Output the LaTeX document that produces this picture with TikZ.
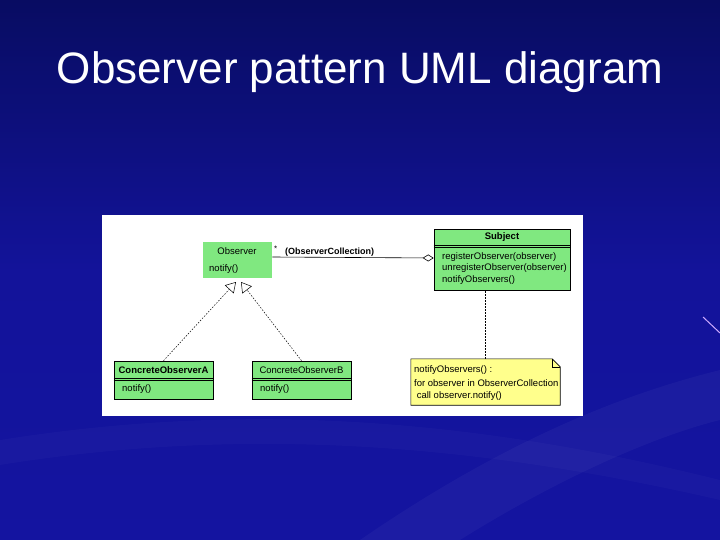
\documentclass[tikz,border=0pt]{standalone}
\usepackage{fontspec}
\setmainfont{Liberation Sans}
\usetikzlibrary{arrows.meta,positioning}
\definecolor{bgtop}{RGB}{8,12,98}
\definecolor{bgbot}{RGB}{20,20,160}
\definecolor{umlgreen}{RGB}{128,232,128}
\definecolor{noteyellow}{RGB}{255,255,140}
\definecolor{streakpink}{RGB}{205,170,255}
\tikzset{
  classbox/.style={draw=black, fill=umlgreen, inner sep=0pt, line width=0.6pt},
  umltext/.style={font=\fontsize{9.5}{11}\selectfont, inner sep=0pt, anchor=west},
  umltitle/.style={font=\fontsize{9.5}{11}\selectfont, inner sep=0pt},
  realize/.style={dash pattern=on 1.5pt off 1.5pt, line width=0.5pt,
    -{Triangle[open,length=10pt,width=12pt]}},
  notelink/.style={dash pattern=on 1.5pt off 1.5pt, line width=0.6pt}
}
\begin{document}
\begin{tikzpicture}[x=1pt,y=-1pt]
  \useasboundingbox (0,0) rectangle (720,540);
  % slide background
  \shade[top color=bgtop, bottom color=bgbot, middle color=bgbot!90!bgtop] (0,0) rectangle (720,540);
  \fill[white,opacity=0.035] (360,540) .. controls (520,430) and (640,390) .. (720,370)
        -- (720,420) .. controls (640,440) and (540,490) .. (460,540) -- cycle;
  \fill[white,opacity=0.025] (0,440) .. controls (250,400) and (480,420) .. (720,480)
        -- (720,500) .. controls (480,445) and (250,425) .. (0,465) -- cycle;
  \draw[streakpink,line width=1pt] (703,317) -- (720,333);
  \node (title) at (360,72) {\fontsize{44}{50}\selectfont\color{white}Observer pattern UML diagram};
  % picture panel
  \fill[white] (102,215) rectangle (583,416);

  % classes
  \node[classbox, draw=none, minimum width=69pt, minimum height=36pt] (observer) at (237.5,260) {};
  \node[umltitle] (observerName) at (237,251) {Observer};
  \node[umltext] (observerOp) at (209,269) {notify()};

  \node[classbox, minimum width=136pt, minimum height=61pt] (subject) at (502,259.5) {};
  \node[umltitle, font=\fontsize{9.5}{11}\selectfont\bfseries] (subjectName) at (502,237) {Subject};
  \draw ([yshift=-16pt]subject.north west) -- ([yshift=-16pt]subject.north east);
  \draw ([yshift=-18.5pt]subject.north west) -- ([yshift=-18.5pt]subject.north east);
  \node[umltext] (subjectOpA) at (442,257) {registerObserver(observer)};
  \node[umltext] (subjectOpB) at (442,268.5) {unregisterObserver(observer)};
  \node[umltext] (subjectOpC) at (442,280) {notifyObservers()};

  \node[classbox, minimum width=99pt, minimum height=38pt] (obsA) at (163.5,380) {};
  \node[umltitle, font=\fontsize{9.5}{11}\selectfont\bfseries] (obsAName) at (163.5,370) {ConcreteObserverA};
  \draw ([yshift=-17pt]obsA.north west) -- ([yshift=-17pt]obsA.north east);
  \draw ([yshift=-19.5pt]obsA.north west) -- ([yshift=-19.5pt]obsA.north east);
  \node[umltext] (obsAOp) at (122,389) {notify()};

  \node[classbox, minimum width=99pt, minimum height=38pt] (obsB) at (301.5,380) {};
  \node[umltitle] (obsBName) at (301.5,370) {ConcreteObserverB};
  \draw ([yshift=-17pt]obsB.north west) -- ([yshift=-17pt]obsB.north east);
  \draw ([yshift=-19.5pt]obsB.north west) -- ([yshift=-19.5pt]obsB.north east);
  \node[umltext] (obsBOp) at (260,389) {notify()};

  % note
  \node[minimum width=149pt, minimum height=46pt, inner sep=0pt] (note) at (485.5,382) {};
  \draw[fill=noteyellow, line width=0.6pt] (note.north west) -- ([xshift=-8pt]note.north east)
        -- ([yshift=-8pt]note.north east) -- (note.south east) -- (note.south west) -- cycle;
  \draw[line width=0.4pt] ([xshift=-8pt]note.north east) |- ([yshift=-8pt]note.north east);
  \node[umltext] (noteA) at (414,370) {notifyObservers() :};
  \node[umltext] (noteB) at (414,383) {for observer in ObserverCollection};
  \node[umltext] (noteC) at (414,396) {\ call observer.notify()};

  % connectors
  \coordinate (tipA) at (236,282);
  \coordinate (tipB) at (241,282);
  \draw[realize] (obsA.north) -- (tipA);
  \draw[realize] (obsB.north) -- (tipB);
  \draw[line width=0.6pt, -{Diamond[open,length=11pt,width=7pt]}]
        ([yshift=3pt]observer.east) -- ([yshift=1.5pt]subject.west);
  \node[umltext, font=\fontsize{8}{9}\selectfont] (mult) at (274,249) {*};
  \node[umltext, font=\fontsize{9}{11}\selectfont\bfseries] (role) at (285,252) {(ObserverCollection)};
  \draw[notelink] (note.north) -- (note.north |- subject.south);
\end{tikzpicture}
\end{document}
